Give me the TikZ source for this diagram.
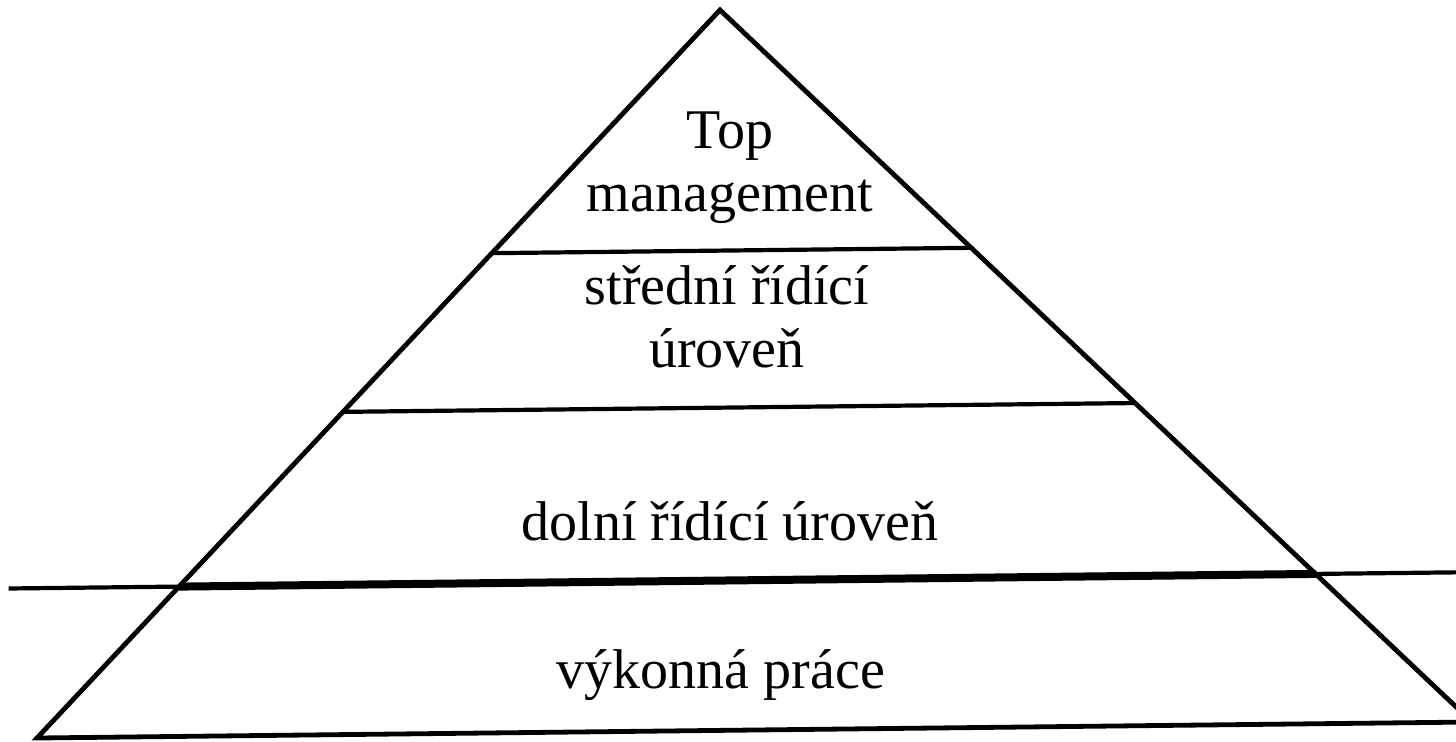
\documentclass[tikz,border=0pt]{standalone}
\usepackage{fontspec}
\setmainfont{Liberation Serif}
\usetikzlibrary{calc}
\begin{document}
\begin{tikzpicture}[x=0.5pt,y=-0.5pt,
  side/.style={line width=2.4pt, line join=miter},
  level/.style={line width=2.1pt},
  cut/.style={line width=4pt},
  ext/.style={line width=2.1pt},
  lbl/.style={font=\fontsize{28}{31.5}\selectfont, align=center, inner sep=0pt, anchor=base}]
\useasboundingbox (0,0) rectangle (1456,741);
\clip (0,0) rectangle (1456,741);
\coordinate (A) at (720,10);
\coordinate (BL) at (37,738);
\coordinate (BR) at (1472,722);
\coordinate (L1) at ($(A)!0.334!(BL)$);
\coordinate (R1) at ($(A)!0.334!(BR)$);
\coordinate (L2) at ($(A)!0.552!(BL)$);
\coordinate (R2) at ($(A)!0.552!(BR)$);
\coordinate (L3) at ($(A)!0.792!(BL)$);
\coordinate (R3) at ($(A)!0.792!(BR)$);
\coordinate (E1) at ($(L3)!-0.15!(R3)$);
\coordinate (E2) at ($(L3)!1.2!(R3)$);
\draw[side] (BL) -- (A) -- (BR) -- cycle;
\draw[level] (L1) -- (R1);
\draw[level] (L2) -- (R2);
\draw[cut] (L3) -- (R3);
\draw[ext] (E1) -- (L3);
\draw[ext] (R3) -- (E2);
\node[lbl] (top) at (730,211) {Top\\management};
\node[lbl] (mid) at (727,367) {střední řídící\\úroveň};
\node[lbl] (low) at (730,540) {dolní řídící úroveň};
\node[lbl] (work) at (721,688) {výkonná práce};
\end{tikzpicture}
\end{document}
